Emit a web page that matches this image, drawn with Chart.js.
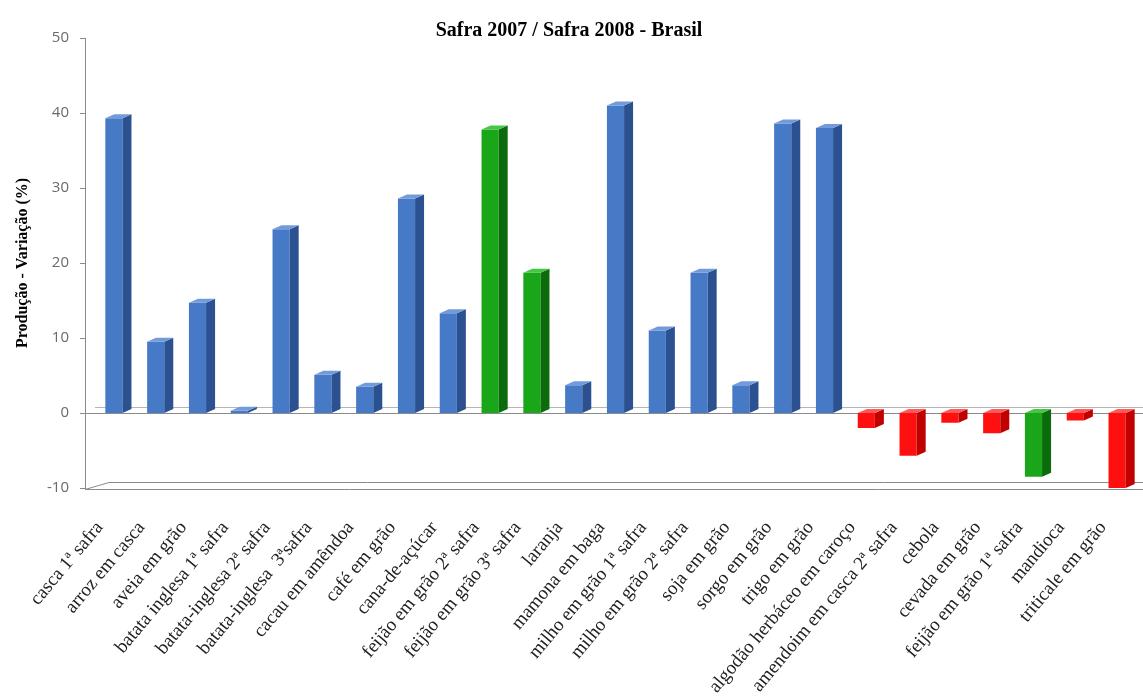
<!DOCTYPE html>
<html>
<head>
<meta charset="utf-8">
<script src="https://cdn.jsdelivr.net/npm/chart.js@4.4.0/dist/chart.umd.min.js"></script>
<style>
  html, body { margin: 0; padding: 0; background: #fff; overflow: hidden; }
  #box { width: 1143px; height: 700px; }
</style>
</head>
<body>
<div id="box"><canvas id="grafico"></canvas></div>
<script>
// Safra 2007 / Safra 2008 - variação da produção (%)
var categorias = [
  'casca 1ª safra', 'arroz em casca', 'aveia em grão', 'batata inglesa 1ª safra',
  'batata-inglesa 2ª safra', 'batata-inglesa  3ªsafra', 'cacau em amêndoa', 'café em grão',
  'cana-de-açúcar', 'feijão em grão 2ª safra', 'feijão em grão 3ª safra', 'laranja',
  'mamona em baga', 'milho em grão 1ª safra', 'milho em grão 2ª safra', 'soja em grão',
  'sorgo em grão', 'trigo em grão', 'algodão herbáceo em caroço', 'amendoim em casca 2ª safra',
  'cebola', 'cevada em grão', 'feijão em grão 1ª safra', 'mandioca', 'triticale em grão'
];
var variacao = [
  39.3, 9.5, 14.7, 0.3, 24.5, 5.1, 3.5, 28.6,
  13.3, 37.8, 18.7, 3.7, 41.0, 11.0, 18.7, 3.7,
  38.6, 38.0, -2.0, -5.7, -1.3, -2.7, -8.5, -1.0, -10.0
];
var eixoMin = -10, eixoMax = 50, eixoPasso = 10;

// feijão em verde, demais: azul (alta) / vermelho (queda)
function cores(i) {
  if (categorias[i].indexOf('feijão') === 0) return { frente: '#19a619', lado: '#0b6c0b', topo: '#45c645' };
  if (variacao[i] >= 0) return { frente: '#4679c6', lado: '#2c5190', topo: '#729bdb' };
  return { frente: '#ff1010', lado: '#c10000', topo: '#ff5a5a' };
}

var prof = 9, subida = 4;

var efeito3d = {
  id: 'efeito3d',
  beforeDatasetsDraw: function(chart) {
    var ctx = chart.ctx, a = chart.chartArea, y = chart.scales.y;
    var eixoX = 85;
    var y0 = y.getPixelForValue(0);
    ctx.save();
    // piso inferior
    var yb = a.bottom;
    ctx.strokeStyle = '#8a8a8a';
    ctx.lineWidth = 1;
    ctx.beginPath();
    ctx.moveTo(eixoX, yb + 1.5); ctx.lineTo(chart.width, yb + 1.5);
    ctx.moveTo(eixoX, yb + 1.5); ctx.lineTo(eixoX + 24, yb - 5.5); ctx.lineTo(chart.width, yb - 5.5);
    ctx.stroke();
    // linha do zero
    ctx.strokeStyle = '#b5b5b5';
    ctx.beginPath();
    ctx.moveTo(eixoX + 10, y0 - 5.5); ctx.lineTo(chart.width, y0 - 5.5);
    ctx.stroke();
    ctx.strokeStyle = '#8a8a8a';
    ctx.beginPath();
    ctx.moveTo(eixoX, y0 + 0.5); ctx.lineTo(chart.width, y0 + 0.5);
    ctx.stroke();
    // eixo vertical e marcas
    ctx.beginPath();
    ctx.moveTo(eixoX + 0.5, a.top); ctx.lineTo(eixoX + 0.5, yb + 2);
    for (var v = eixoMin; v <= eixoMax; v += eixoPasso) {
      var py = Math.round(y.getPixelForValue(v)) + 0.5;
      ctx.moveTo(eixoX - 5, py); ctx.lineTo(eixoX, py);
    }
    ctx.stroke();
    ctx.restore();
  },
  afterDatasetsDraw: function(chart) {
    var ctx = chart.ctx;
    var meta = chart.getDatasetMeta(0);
    ctx.save();
    meta.data.forEach(function(bar, i) {
      var c = cores(i);
      var w = bar.width, xr = bar.x + w / 2, xl = bar.x - w / 2;
      var topo = Math.min(bar.y, bar.base), fundo = Math.max(bar.y, bar.base);
      // face lateral
      ctx.fillStyle = c.lado;
      ctx.beginPath();
      ctx.moveTo(xr, topo); ctx.lineTo(xr + prof, topo - subida);
      ctx.lineTo(xr + prof, fundo - subida); ctx.lineTo(xr, fundo);
      ctx.closePath(); ctx.fill();
      // face superior
      ctx.fillStyle = c.topo;
      ctx.beginPath();
      ctx.moveTo(xl, topo); ctx.lineTo(xl + prof, topo - subida);
      ctx.lineTo(xr + prof, topo - subida); ctx.lineTo(xr, topo);
      ctx.closePath(); ctx.fill();
    });
    ctx.restore();
  }
};

new Chart(document.getElementById('grafico'), {
  type: 'bar',
  data: {
    labels: categorias,
    datasets: [{
      data: variacao,
      backgroundColor: variacao.map(function(v, i) { return cores(i).frente; }),
      borderWidth: 0,
      barPercentage: 0.41,
      categoryPercentage: 1
    }]
  },
  options: {
    responsive: true,
    maintainAspectRatio: false,
    animation: false,
    layout: { padding: { left: 0, right: 5, top: 0, bottom: 0 } },
    plugins: {
      legend: { display: false },
      tooltip: { enabled: false },
      title: {
        display: true,
        text: 'Safra 2007 / Safra 2008 - Brasil',
        color: '#000',
        font: { family: 'Liberation Serif', size: 20, weight: 'bold' },
        padding: { top: 19, bottom: -5 }
      }
    },
    scales: {
      x: {
        grid: { display: false, drawTicks: false },
        border: { display: false },
        afterFit: function(scale) {
          scale.height = 212;
          scale.paddingLeft = 0;
          scale.paddingRight = 0;
        },
        ticks: {
          autoSkip: false,
          minRotation: 50,
          maxRotation: 50,
          padding: 29,
          labelOffset: -14,
          color: '#222',
          font: { family: 'Liberation Serif', size: 19 }
        }
      },
      y: {
        min: eixoMin,
        max: eixoMax,
        grid: { display: false, drawTicks: false },
        border: { display: false },
        afterFit: function(scale) { scale.width = 93; },
        ticks: {
          stepSize: eixoPasso,
          padding: 24,
          color: '#6a6a6a',
          font: { family: 'Open Sans', size: 15 }
        },
        title: {
          display: true,
          text: 'Produção - Variação (%)',
          color: '#000',
          font: { family: 'Liberation Serif', size: 16, weight: 'bold' },
          padding: { top: 13, bottom: 0 }
        }
      }
    }
  },
  plugins: [efeito3d]
});
</script>
</body>
</html>
